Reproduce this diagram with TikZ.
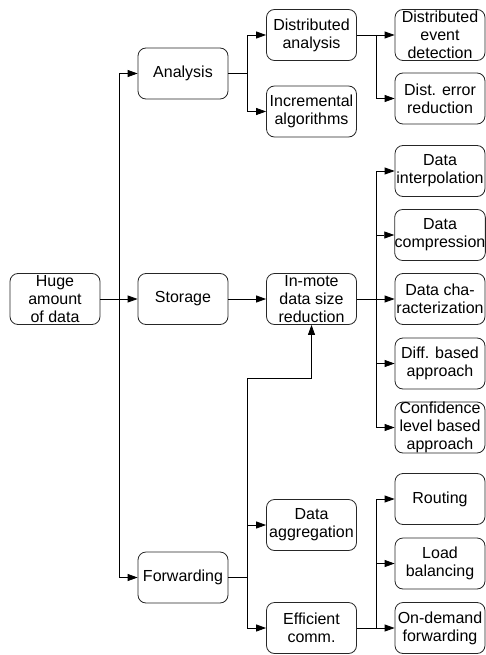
\documentclass[tikz,border=0pt]{standalone}
\usepackage{fontspec}
\setmainfont{Liberation Sans}
\usetikzlibrary{arrows.meta}
\tikzset{
  box/.style={draw=black!85, line width=0.8pt, rounded corners=8pt, minimum width=90pt, minimum height=51pt, inner sep=0pt, align=center, font=\fontsize{16}{18}\selectfont},
  rbox/.style={box},
  conn/.style={draw=black, line width=0.8pt},
  arr/.style={conn, -{Triangle[length=10pt,width=7pt]}}
}
\begin{document}
\begin{tikzpicture}[x=1pt,y=-1pt]
\useasboundingbox (0,0) rectangle (486,655);
% level 0 / 1
\node[box] (huge) at (55,299) {Huge\\amount\\of data};
\node[box] (analysis) at (183,73.5) {Analysis};
\node[box] (storage) at (183,299) {Storage};
\node[box] (forwarding) at (183,577.5) {Forwarding};
% level 2
\node[box] (dana) at (311.5,35) {Distributed\\analysis};
\node[box] (incr) at (311.5,111.5) {Incremental\\algorithms};
\node[box] (inmote) at (311.5,299) {In-mote\\data size\\reduction};
\node[box] (agg) at (311.5,525) {Data\\aggregation};
\node[box] (eff) at (311.5,628) {Efficient\\comm.};
% level 3
\node[rbox] (devd) at (440,35) {Distributed\\event\\detection};
\node[rbox] (derr) at (440,98.5) {Dist. error\\reduction};
\node[rbox] (dint) at (440,171) {Data\\interpolation};
\node[rbox] (dcomp) at (440,235) {Data\\compression};
\node[rbox] (dchar) at (440,299) {Data cha-\\racterization};
\node[rbox] (diff) at (440,363.5) {Diff. based\\approach};
\node[rbox] (conf) at (440,427.5) {Confidence\\level based\\approach};
\node[rbox] (rout) at (440,499) {Routing};
\node[rbox] (load) at (440,563.5) {Load\\balancing};
\node[rbox] (ondem) at (440,628) {On-demand\\forwarding};
% junction coordinates
\coordinate (t) at (119,299);
\coordinate (ja) at (247,73.5);
\coordinate (jd) at (376,35);
\coordinate (js) at (376,299);
\coordinate (jf) at (247,577.5);
\coordinate (jk) at (247,378);
\coordinate (je) at (376,628);
% connectors
\draw[arr] (huge.east) -- (storage.west);
\draw[arr] (t) |- (analysis.west);
\draw[arr] (t) |- (forwarding.west);
\draw[conn] (analysis.east) -- (ja);
\draw[arr] (ja) |- (dana.west);
\draw[arr] (ja) |- (incr.west);
\draw[conn] (dana.east) -- (jd);
\draw[arr] (jd) |- (devd.west);
\draw[arr] (jd) |- (derr.west);
\draw[arr] (storage.east) -- (inmote.west);
\draw[conn] (inmote.east) -- (js);
\draw[arr] (js) |- (dint.west);
\draw[arr] (js) |- (dcomp.west);
\draw[arr] (js) -- (dchar.west);
\draw[arr] (js) |- (diff.west);
\draw[arr] (js) |- (conf.west);
\draw[conn] (forwarding.east) -- (jf);
\draw[arr] (jf) |- (agg.west);
\draw[arr] (jf) |- (eff.west);
\draw[arr] (jf) -- (jk) -| (inmote.south);
\draw[conn] (eff.east) -- (je);
\draw[arr] (je) |- (rout.west);
\draw[arr] (je) |- (load.west);
\draw[arr] (je) -- (ondem.west);
\end{tikzpicture}
\end{document}
